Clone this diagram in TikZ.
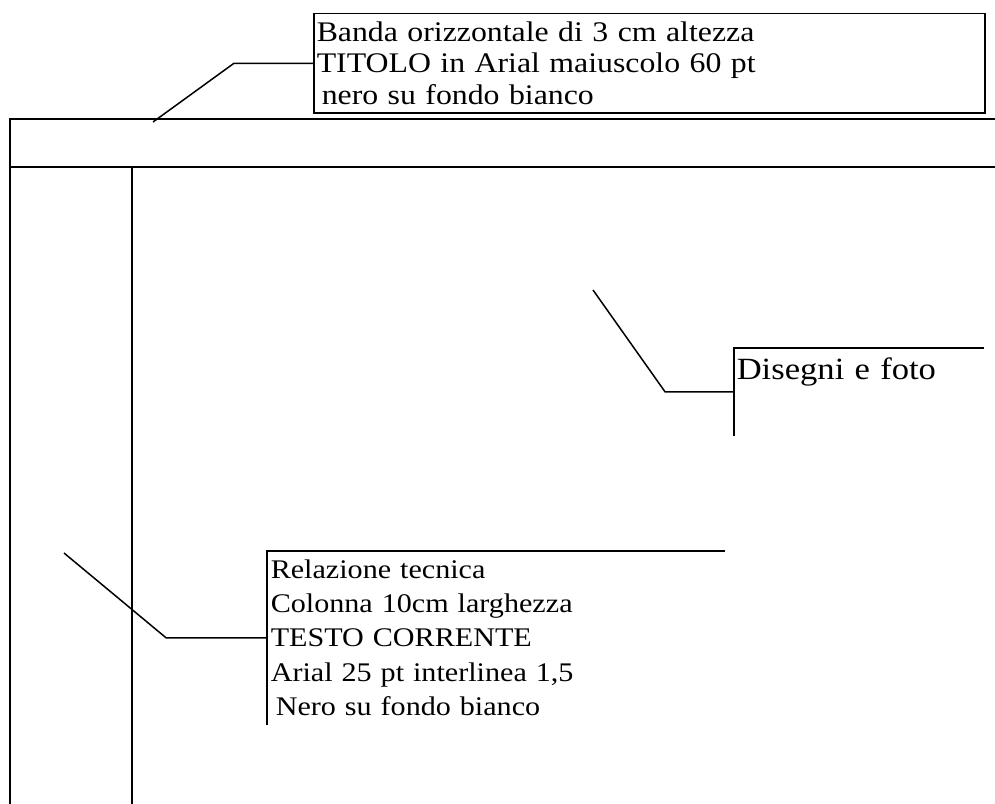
\documentclass[tikz,border=0pt]{standalone}
\usepackage{fontspec}
\setmainfont{Liberation Serif}
\newfontfamily\sheetfont[FakeStretch=1.12]{Liberation Serif}
\usepackage{tikz}
\usetikzlibrary{positioning, calc}

\begin{document}
\begin{tikzpicture}[x=1bp, y=-1bp, line width=1.5bp,
  memo/.style={inner xsep=3bp, inner ysep=0pt, align=left, anchor=north west}]
  \useasboundingbox (0,0) rectangle (995,804);

  % page frame: title band and column
  \draw (10,804) -- (10,119) -- (995,119);
  \draw (10,167) -- (995,167);
  \draw (132,167) -- (132,804);

  % notes
  \node[memo, draw, text width=665bp, minimum height=99bp,
        font=\sheetfont\fontsize{28.5}{32}\selectfont] (titlebox) at (313,13) {
    Banda orizzontale di 3 cm altezza\\
    TITOLO in Arial maiuscolo 60 pt\\
    \hspace*{5bp}nero su fondo bianco
  };
  \node[memo, text width=450bp, minimum height=172bp,
        font=\sheetfont\fontsize{27}{34.5}\selectfont] (reltext) at (267,551) {
    Relazione tecnica\\
    Colonna 10cm larghezza\\
    TESTO CORRENTE\\
    Arial 25 pt interlinea 1,5\\
    \hspace*{5bp}Nero su fondo bianco
  };
  \node[memo, inner xsep=2bp, text width=244bp, text height=31bp, text depth=55bp,
        font=\sheetfont\fontsize{31}{36}\selectfont] (photolabel) at (734,348) {Disegni e foto};

  \draw (reltext.north east) -- (reltext.north west) -- (reltext.south west);
  \draw (photolabel.north east) -- (photolabel.north west) -- (photolabel.south west);

  % leaders
  \coordinate (titletip) at (153,122);
  \coordinate (phototip) at (593,290);
  \coordinate (reltip) at (64,553);
  \draw (titlebox.west) -- ++(-79,0) -- (titletip);
  \draw (photolabel.west) -- ++(-69,0) -- (phototip);
  \draw (reltext.west) -- ++(-101,0) -- (reltip);
\end{tikzpicture}
\end{document}
